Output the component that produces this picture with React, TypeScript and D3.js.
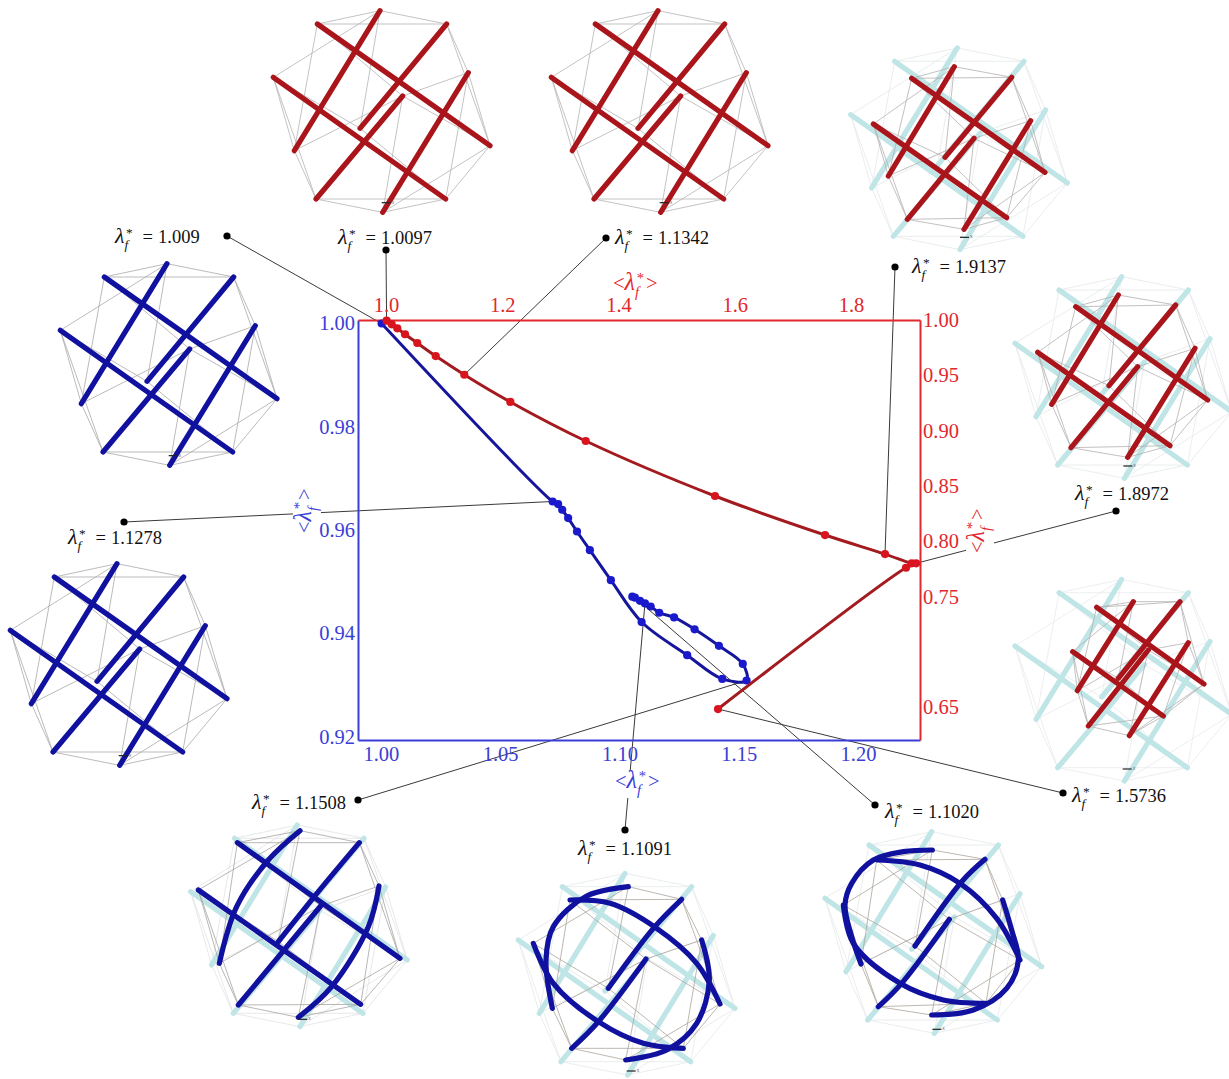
import React, { useEffect, useRef } from "react";
import * as d3 from "d3";

// curve: <lambda_f*> vs <lambda_l*>
const redX = [1.001, 1.0098, 1.0194, 1.0327, 1.0538, 1.0855, 1.1347, 1.2139, 1.3436, 1.566, 1.7553, 1.8585, 1.9044, 1.912, 1.8946, 1.5712];
const redY = [0.9994, 0.9961, 0.9925, 0.9871, 0.9792, 0.9674, 0.9505, 0.9259, 0.8906, 0.8409, 0.8056, 0.7884, 0.78, 0.78, 0.776, 0.6483];
const blueX = [1.0003, 1.072, 1.0743, 1.076, 1.0785, 1.0822, 1.0876, 1.0964, 1.1093, 1.1284, 1.1431, 1.1533, 1.1517, 1.1417, 1.1315, 1.1229, 1.1167, 1.1131, 1.1107, 1.1086, 1.1065, 1.1054];
const blueY = [0.9999, 0.9655, 0.965, 0.9639, 0.9623, 0.9597, 0.9561, 0.9503, 0.9422, 0.9358, 0.9312, 0.9309, 0.9341, 0.9376, 0.9408, 0.9431, 0.944, 0.9452, 0.9458, 0.9463, 0.9469, 0.9471];

const blueXTicks = [1.0, 1.05, 1.1, 1.15, 1.2];
const blueYTicks = [1.0, 0.98, 0.96, 0.94, 0.92];
const redXTicks = [1.0, 1.2, 1.4, 1.6, 1.8];
const redYTicks = [1.0, 0.95, 0.9, 0.85, 0.8, 0.75, 0.65];

// lambda values of the callouts, and the point of the curve each one points at
const calloutValues = ["1.009", "1.0097", "1.1342", "1.9137", "1.8972", "1.5736", "1.1020", "1.1091", "1.1508", "1.1278"];
const calloutSeries = ["blue", "red", "red", "red", "red", "red", "blue", "blue", "blue", "blue"];
const calloutIndex = [0, 0, 6, 11, 13, 15, 20, 18, 11, 1];
const calloutDots = [[227, 236], [386, 250], [606, 238], [895, 267], [1116, 511], [1063, 793], [875, 805], [625, 830], [358, 800], [124, 522]];
const calloutText = [[115, 243], [338, 244], [615, 244], [912, 273], [1075, 500], [1072, 802], [885, 818], [578, 855], [252, 809], [68, 544]];

// tensegrity node order: top, lowerleft, upperright, innerA, innerB, botleft, right, bottom, topleft, farright, farleft, botright
const struts = [[0, 1], [2, 3], [4, 5], [6, 7], [8, 9], [10, 11]];
const cables = [[10, 0], [0, 8], [0, 2], [8, 2], [8, 1], [0, 3], [10, 1], [10, 5], [1, 5], [1, 4], [4, 6], [8, 4], [10, 3], [4, 9], [3, 11], [2, 9], [2, 6], [6, 9], [6, 11], [4, 7], [5, 7], [5, 11], [7, 11], [7, 9], [11, 9]];

const lockedNodes = [[360, 32], [103, 452], [560, 72], [300, 385], [428, 288], [168, 597], [625, 218], [368, 637], [172, 72], [690, 437], [40, 232], [557, 597]];
const redNodesA = [[343, 80], [145, 408], [515, 112], [315, 352], [402, 295], [202, 538], [572, 242], [372, 568], [215, 115], [615, 397], [100, 252], [500, 533]];
const redNodesB = [[340, 60], [140, 388], [512, 90], [312, 332], [398, 275], [198, 518], [570, 220], [368, 547], [212, 95], [608, 375], [98, 232], [495, 512]];
const redNodesC = [[400, 95], [232, 362], [540, 95], [355, 325], [445, 240], [265, 468], [565, 218], [388, 497], [290, 112], [612, 342], [218, 245], [490, 438]];
const blueNodesA = [[360, 62], [118, 460], [538, 98], [295, 395], [422, 288], [175, 585], [597, 228], [355, 622], [172, 98], [660, 445], [55, 240], [542, 583]];
const blueNodesB = [[355, 80], [127, 445], [515, 118], [295, 385], [408, 297], [185, 565], [575, 240], [347, 600], [180, 120], [630, 432], [70, 250], [520, 565]];
const blueNodesC = [[367, 60], [153, 402], [525, 88], [315, 348], [418, 268], [205, 530], [578, 210], [365, 555], [200, 90], [630, 390], [100, 225], [528, 520]];

// interior points of the buckled struts
const bendsA = [[[265, 150], [170, 290]], [[415, 245]], [], [[565, 350], [455, 530]], [], []];
const bendsB = [[[230, 108], [130, 200], [108, 300]], [[430, 205]], [[265, 485]], [[598, 360], [560, 490], [470, 570]], [[300, 130], [440, 205], [560, 310]], [[130, 370], [265, 485], [400, 550]]];
const bendsC = [[[280, 65], [190, 90], [125, 160], [105, 225], [125, 320]], [[455, 155]], [[275, 460]], [[605, 300], [625, 390], [590, 475], [490, 540]], [[330, 105], [450, 160], [560, 265]], [[130, 340], [270, 460], [400, 510]]];

const RED = "#e2282c";
const BLUE = "#3a3ed6";
const STRUT_RED = "#aa151b";
const STRUT_BLUE = "#11119f";
const STRUT_PALE = "#bfe5e6";

type Sel = d3.Selection<any, any, any, any>;

const drawLayer = (g: Sel, frame: number[], nodes: number[][], color: string, cableColor: string, bends?: number[][][]) => {
  const x = d3.scaleLinear().domain([0, 720]).range([frame[0], frame[0] + 240]);
  const y = d3.scaleLinear().domain([0, 720]).range([frame[1], frame[1] + 240]);
  const line = d3.line<number[]>().x((d) => x(d[0])).y((d) => y(d[1])).curve(d3.curveCatmullRom.alpha(0.5));

  g.append("g").selectAll("line").data(cables).enter().append("line")
    .attr("x1", (d) => x(nodes[d[0]][0])).attr("y1", (d) => y(nodes[d[0]][1]))
    .attr("x2", (d) => x(nodes[d[1]][0])).attr("y2", (d) => y(nodes[d[1]][1]))
    .attr("stroke", cableColor).attr("stroke-width", 0.8);

  g.append("g").selectAll("path").data(struts).enter().append("path")
    .attr("d", (d, i) => line([nodes[d[0]], ...(bends ? bends[i] : []), nodes[d[1]]]))
    .attr("fill", "none").attr("stroke", color).attr("stroke-width", 5.2).attr("stroke-linecap", "round");
};

// small x axis marker under every structure
const drawTriad = (g: Sel, frame: number[], p: number[]) => {
  const px = frame[0] + p[0] / 3;
  const py = frame[1] + p[1] / 3;
  g.append("line").attr("x1", px).attr("y1", py).attr("x2", px + 9).attr("y2", py)
    .attr("stroke", "#222").attr("stroke-width", 1.2);
  g.append("text").attr("x", px + 10).attr("y", py + 1).attr("font-size", 5)
    .attr("font-family", "Liberation Sans").attr("fill", "#667").text("x");
};

// lambda with subscript f and superscript star, the times font has them too tight so spaced by hand
const drawLambda = (t: Sel, size: number) => {
  t.append("tspan").attr("font-style", "italic").attr("font-size", size * 1.18).text("λ");
  t.append("tspan").attr("font-style", "italic").attr("font-size", size * 0.72).attr("dy", size * 0.34).text("f");
  t.append("tspan").attr("font-size", size * 0.72).attr("dx", -size * 0.12).attr("dy", -size * 0.66).text("*");
};

const App = () => {
  const chartRef = useRef<SVGSVGElement>(null);

  useEffect(() => {
    const svg = d3.select(chartRef.current);
    svg.selectAll("*").remove();

    // the ends of the axes are the plot frame
    const xBlue = d3.scaleLinear().domain([0.9904, 1.226]).range([358, 920]);
    const yBlue = d3.scaleLinear().domain([0.9194, 1.00058]).range([740, 320]);
    const xRed = d3.scaleLinear().domain([0.9518, 1.9187]).range([358, 920]);
    const yRed = d3.scaleLinear().domain([0.6203, 1.0]).range([740, 320]);

    // structures around the plot
    const glyphs = svg.append("g");
    drawLayer(glyphs, [260, 0], lockedNodes, STRUT_RED, "#b4b4b4");
    drawTriad(glyphs, [260, 0], [365, 608]);
    drawLayer(glyphs, [538, 0], lockedNodes, STRUT_RED, "#b4b4b4");
    drawTriad(glyphs, [538, 0], [365, 608]);
    drawLayer(glyphs, [47, 253], lockedNodes, STRUT_BLUE, "#aaaaaa");
    drawTriad(glyphs, [47, 253], [365, 608]);
    drawLayer(glyphs, [-3, 553], lockedNodes, STRUT_BLUE, "#aaaaaa");
    drawTriad(glyphs, [-3, 553], [365, 608]);

    drawLayer(glyphs, [837.3, 37.3], lockedNodes, STRUT_PALE, "#e4e8ea");
    drawLayer(glyphs, [840, 40], redNodesA, STRUT_RED, "#b4b0b0");
    drawTriad(glyphs, [840, 40], [360, 592]);
    drawLayer(glyphs, [1001.7, 266], lockedNodes, STRUT_PALE, "#e4e8ea");
    drawLayer(glyphs, [1005, 275], redNodesB, STRUT_RED, "#b4b0b0");
    drawTriad(glyphs, [1005, 275], [355, 573]);
    drawLayer(glyphs, [1001.7, 568.7], lockedNodes, STRUT_PALE, "#e8eaec");
    drawLayer(glyphs, [1000, 570], redNodesC, STRUT_RED, "#b4b0b0");
    drawTriad(glyphs, [1000, 570], [368, 597]);

    drawLayer(glyphs, [177.3, 814.3], lockedNodes, STRUT_PALE, "#dfe2e4");
    drawLayer(glyphs, [180, 810], blueNodesA, STRUT_BLUE, "#a8a4a0", bendsA);
    drawTriad(glyphs, [180, 810], [355, 628]);
    drawLayer(glyphs, [505, 862.7], lockedNodes, STRUT_PALE, "#e4e8ea");
    drawLayer(glyphs, [510, 860], blueNodesB, STRUT_BLUE, "#aca49c", bendsB);
    drawTriad(glyphs, [510, 860], [350, 633]);
    drawLayer(glyphs, [811.7, 821], lockedNodes, STRUT_PALE, "#e4e8ea");
    drawLayer(glyphs, [810, 830], blueNodesC, STRUT_BLUE, "#aca49c", bendsC);
    drawTriad(glyphs, [810, 830], [367, 598]);

    // callout leaders go under the axis titles
    const leaders = svg.append("g");
    calloutValues.forEach((v, i) => {
      const isRed = calloutSeries[i] === "red";
      const k = calloutIndex[i];
      leaders.append("line")
        .attr("x1", calloutDots[i][0]).attr("y1", calloutDots[i][1])
        .attr("x2", isRed ? xRed(redX[k]) : xBlue(blueX[k]))
        .attr("y2", isRed ? yRed(redY[k]) : yBlue(blueY[k]))
        .attr("stroke", "#3a3a3a").attr("stroke-width", 1);
      leaders.append("circle").attr("cx", calloutDots[i][0]).attr("cy", calloutDots[i][1]).attr("r", 3.6).attr("fill", "#000");

      const t = leaders.append("text")
        .attr("x", calloutText[i][0]).attr("y", calloutText[i][1])
        .attr("font-family", "Liberation Serif").attr("font-size", 18.5).attr("fill", "#111");
      drawLambda(t, 18.5);
      t.append("tspan").attr("dx", 10).attr("dy", 18.5 * 0.32).text("=");
      t.append("tspan").attr("dx", 5).text(v);
    });

    // axis titles on a white patch that cuts the leaders
    const title = (cx: number, cy: number, angle: number, color: string) => {
      const g = svg.append("g").attr("transform", `translate(${cx},${cy}) rotate(${angle})`);
      g.append("rect").attr("x", -27).attr("y", -18).attr("width", 54).attr("height", 28).attr("fill", "#fff");
      const t = g.append("text").attr("x", -24).attr("y", 0)
        .attr("font-family", "Liberation Serif").attr("font-size", 20.5).attr("fill", color);
      t.append("tspan").text("<");
      drawLambda(t, 20.5);
      t.append("tspan").attr("dx", 2).attr("dy", 20.5 * 0.32).text(">");
    };
    title(637, 290, 0, RED);
    title(639, 788, 0, BLUE);
    title(311, 509, -90, BLUE);
    title(984, 529, -90, RED);

    // axes, without tick marks
    const fontAxis = (g: Sel, color: string) => {
      g.attr("font-family", "Liberation Serif").attr("font-size", 20.5);
      g.selectAll("text").attr("fill", color);
      g.select(".domain").attr("stroke", color).attr("stroke-width", 2);
    };
    svg.append("g").attr("transform", "translate(0,740)")
      .call(d3.axisBottom(xBlue).tickValues(blueXTicks).tickSize(0).tickPadding(6).tickFormat(d3.format(".2f")) as any)
      .call(fontAxis as any, BLUE);
    svg.append("g").attr("transform", "translate(358,0)")
      .call(d3.axisLeft(yBlue).tickValues(blueYTicks).tickSize(0).tickPadding(3).tickFormat(d3.format(".2f")) as any)
      .call(fontAxis as any, BLUE);
    svg.append("g").attr("transform", "translate(0,320)")
      .call(d3.axisTop(xRed).tickValues(redXTicks).tickSize(0).tickPadding(8).tickFormat(d3.format(".1f")) as any)
      .call(fontAxis as any, RED);
    svg.append("g").attr("transform", "translate(920,0)")
      .call(d3.axisRight(yRed).tickValues(redYTicks).tickSize(0).tickPadding(3).tickFormat(d3.format(".2f")) as any)
      .call(fontAxis as any, RED);

    // curves
    const curve = (xs: number[], ys: number[], x: any, y: any, lineColor: string, dotColor: string) => {
      const pts = xs.map((v, i) => [v, ys[i]]);
      const path = d3.line<number[]>().x((d) => x(d[0])).y((d) => y(d[1])).curve(d3.curveCatmullRom.alpha(0.5));
      svg.append("path").attr("d", path(pts)).attr("fill", "none").attr("stroke", lineColor)
        .attr("stroke-width", 3).attr("stroke-linejoin", "round");
      svg.append("g").selectAll("circle").data(pts).enter().append("circle")
        .attr("cx", (d) => x(d[0])).attr("cy", (d) => y(d[1])).attr("r", 4.1).attr("fill", dotColor);
    };
    curve(blueX, blueY, xBlue, yBlue, "#16169c", "#1a1acc");
    curve(redX, redY, xRed, yRed, "#a31a1f", "#d8141e");
  }, []);

  return (
    <svg
      ref={chartRef}
      width={1229}
      height={1079}
      style={{ position: "absolute", left: 0, top: 0, display: "block", background: "#fff" }}
    ></svg>
  );
};

export default App;
